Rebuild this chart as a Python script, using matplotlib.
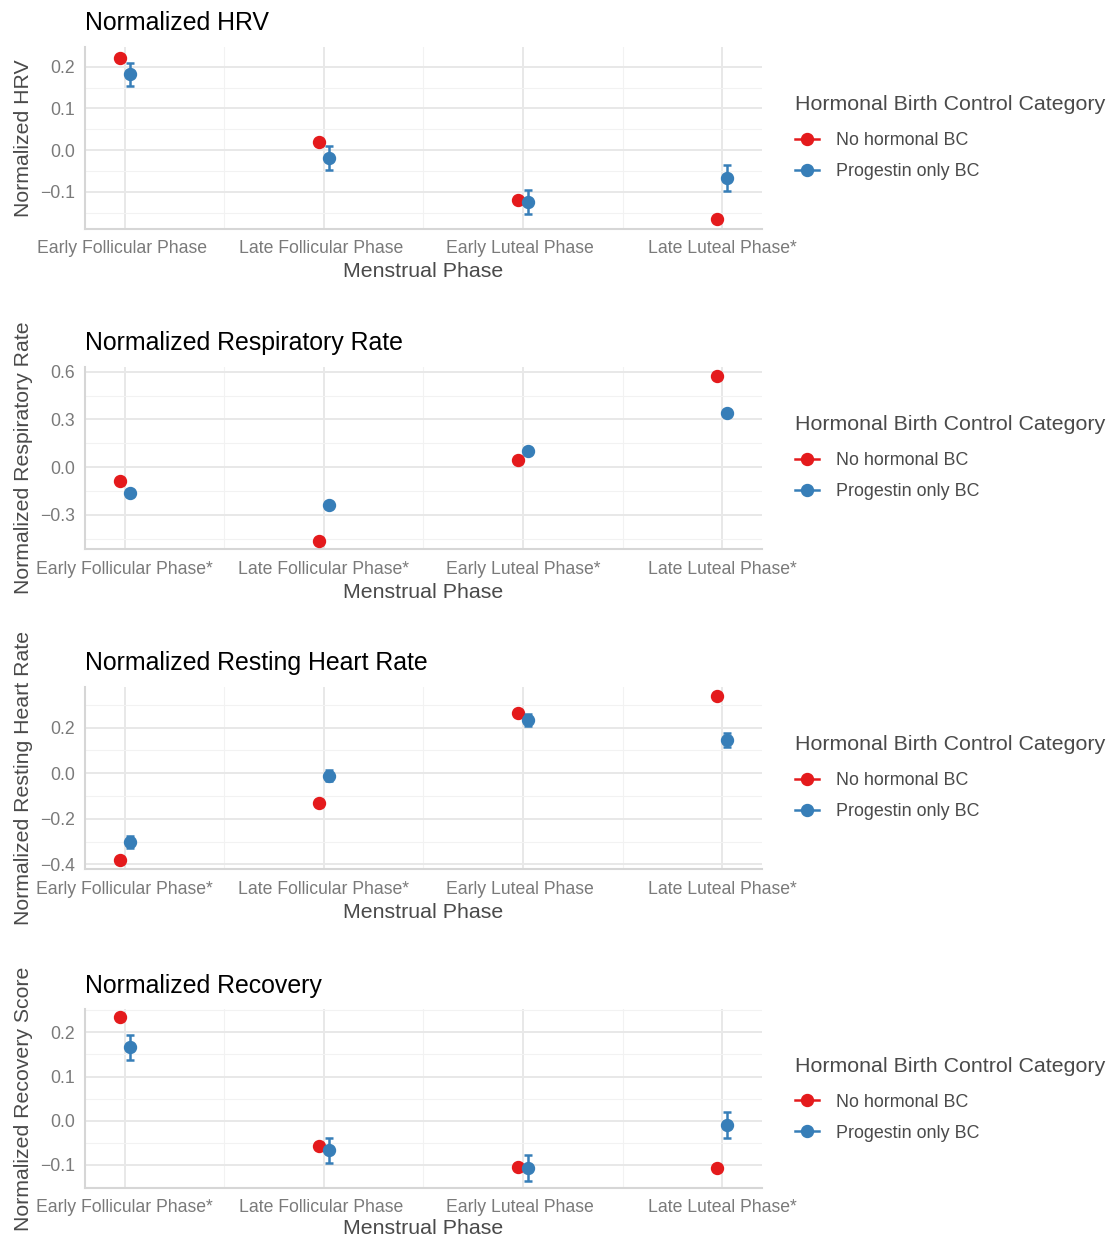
import matplotlib
matplotlib.use("Agg")
import matplotlib.pyplot as plt
from matplotlib.lines import Line2D
from matplotlib.ticker import FixedLocator
import numpy as np

plt.rcParams['font.family'] = ['Liberation Sans', 'DejaVu Sans']

# ---------------- data ----------------
phases = ["Early Follicular Phase", "Late Follicular Phase",
          "Early Luteal Phase", "Late Luteal Phase"]
groups = ["No hormonal BC", "Progestin only BC"]
legend_title = "Hormonal Birth Control Category"

titles = ["Normalized HRV", "Normalized Respiratory Rate",
          "Normalized Resting Heart Rate", "Normalized Recovery"]
ylabels = ["Normalized HRV", "Normalized Respiratory Rate",
           "Normalized Resting Heart Rate", "Normalized Recovery Score"]

# significance markers per panel ("*" = significant difference)
hrv_sig = ["", "", "", "*"]
resp_sig = ["*", "*", "*", "*"]
rhr_sig = ["*", "*", "", "*"]
rec_sig = ["*", "", "", "*"]

hrv_none = [0.222, 0.019, -0.119, -0.164]
hrv_none_se = [0.004, 0.004, 0.004, 0.004]
hrv_prog = [0.182, -0.019, -0.125, -0.066]
hrv_prog_se = [0.028, 0.029, 0.029, 0.031]

resp_none = [-0.090, -0.465, 0.042, 0.575]
resp_none_se = [0.010, 0.010, 0.010, 0.010]
resp_prog = [-0.163, -0.239, 0.103, 0.342]
resp_prog_se = [0.018, 0.018, 0.018, 0.018]

rhr_none = [-0.381, -0.131, 0.266, 0.341]
rhr_none_se = [0.008, 0.008, 0.008, 0.008]
rhr_prog = [-0.303, -0.011, 0.234, 0.146]
rhr_prog_se = [0.026, 0.025, 0.025, 0.030]

rec_none = [0.234, -0.056, -0.105, -0.107]
rec_none_se = [0.004, 0.004, 0.004, 0.004]
rec_prog = [0.166, -0.067, -0.106, -0.010]
rec_prog_se = [0.028, 0.0285, 0.0295, 0.030]

hrv_ticks = [-0.1, 0.0, 0.1, 0.2]
resp_ticks = [-0.3, 0.0, 0.3, 0.6]
rhr_ticks = [-0.4, -0.2, 0.0, 0.2]
rec_ticks = [-0.1, 0.0, 0.1, 0.2]

hrv_ylim = (-0.189, 0.248)
resp_ylim = (-0.516, 0.631)
rhr_ylim = (-0.422, 0.380)
rec_ylim = (-0.152, 0.252)

colors = ["#E41A1C", "#377EB8"]

panels = [
    (titles[0], ylabels[0], hrv_sig, hrv_none, hrv_none_se, hrv_prog, hrv_prog_se, hrv_ticks, hrv_ylim),
    (titles[1], ylabels[1], resp_sig, resp_none, resp_none_se, resp_prog, resp_prog_se, resp_ticks, resp_ylim),
    (titles[2], ylabels[2], rhr_sig, rhr_none, rhr_none_se, rhr_prog, rhr_prog_se, rhr_ticks, rhr_ylim),
    (titles[3], ylabels[3], rec_sig, rec_none, rec_none_se, rec_prog, rec_prog_se, rec_ticks, rec_ylim),
]

# ---------------- layout ----------------
W, H = 1110, 1239
fig = plt.figure(figsize=(W / 100, H / 100), dpi=100)
ax_left, ax_right = 85, 762
ax_tb = [(46.7, 229.0), (366.7, 549.3), (686.7, 869.3), (1009.3, 1188.0)]

dodge = 0.025
x = np.arange(len(phases))

for i, ((title, ylab, sig, none, none_se, prog, prog_se, ticks, ylim), (top, bot)) in enumerate(zip(panels, ax_tb)):
    ax = fig.add_axes([ax_left / W, 1 - bot / H, (ax_right - ax_left) / W, (bot - top) / H])
    ax.set_xlim(-0.2, len(phases) - 1 + 0.2)
    ax.set_ylim(*ylim)

    # grid
    ax.xaxis.set_major_locator(FixedLocator(x))
    ax.xaxis.set_minor_locator(FixedLocator(x[:-1] + 0.5))
    ax.yaxis.set_major_locator(FixedLocator(ticks))
    step = ticks[1] - ticks[0]
    minors = [ticks[0] - step / 2] + [t + step / 2 for t in ticks]
    ax.yaxis.set_minor_locator(FixedLocator(minors))
    ax.grid(which='major', color='#E8E8E8', linewidth=1.4)
    ax.grid(which='minor', color='#F2F2F2', linewidth=0.8)
    ax.set_axisbelow(True)

    for s in ['top', 'right']:
        ax.spines[s].set_visible(False)
    for s in ['left', 'bottom']:
        ax.spines[s].set_color('#D6D6D6')
        ax.spines[s].set_linewidth(1.5)

    ax.errorbar(x - dodge, none, yerr=none_se, fmt='o', color=colors[0], ms=8.6,
                elinewidth=1.8, capsize=3.2, capthick=1.8, zorder=3)
    ax.errorbar(x + dodge, prog, yerr=prog_se, fmt='o', color=colors[1], ms=8.6,
                elinewidth=1.8, capsize=3.2, capthick=1.8, zorder=4)

    labels = [p + (s if s else "\u2004") for p, s in zip(phases, sig)]
    ax.set_xticks(x)
    ax.set_xticklabels(labels)
    ax.set_yticklabels([("%.1f" % t).replace("-", "\u2212") for t in ticks])
    ax.tick_params(which='both', length=0)
    ax.tick_params(axis='x', pad=8.2, labelsize=12.7, labelcolor='#7A7A7A')
    ax.tick_params(axis='y', pad=7, labelsize=12.7, labelcolor='#7A7A7A')

    ax.set_title(title, loc='left', fontsize=17.9, color='black', pad=12)
    ax.set_xlabel("Menstrual Phase", fontsize=15.4, color='#4A4A4A',
                  labelpad=3.5 if i < 3 else 2.0)
    ax.set_ylabel(ylab, fontsize=15.3, color='#4A4A4A', va='center')
    ax.yaxis.set_label_coords((23.5 - ax_left) / (ax_right - ax_left), 0.5)

    handles = [Line2D([0], [0], color=c, marker='o', ms=8.6, lw=1.8) for c in colors]
    leg = ax.legend(handles, groups, title=legend_title, loc='upper left',
                    bbox_to_anchor=(1.0487, 0.735), frameon=False, borderaxespad=0,
                    borderpad=0, fontsize=12.9, title_fontsize=15.4,
                    handlelength=1.34, handletextpad=0.95, labelspacing=0.78,
                    alignment='left')
    leg._legend_box.sep = 12.9
    leg.get_title().set_color('#4A4A4A')
    for t in leg.get_texts():
        t.set_color('#4A4A4A')

fig.savefig("out.png", dpi=100, facecolor='white')
